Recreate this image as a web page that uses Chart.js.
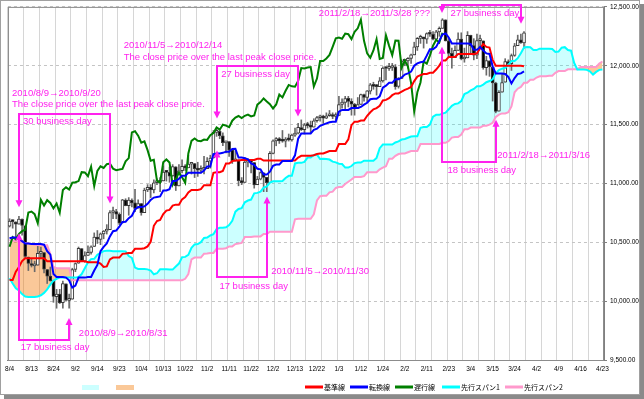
<!DOCTYPE html>
<html>
<head>
<meta charset="utf-8">
<script src="https://cdn.jsdelivr.net/npm/chart.js@4/dist/chart.umd.min.js"></script>
<style>
html, body { margin: 0; padding: 0; background: #fff; }
canvas { display: block; background: #fff; }
</style>
</head>
<body>
<canvas id="chart" width="644" height="399"></canvas>
<script>
// x axis: one category per trading day, a date label every 7th one
const tickLabels = ['8/4','8/13','8/24','9/2','9/14','9/23','10/4','10/13','10/22','11/2','11/11','11/22','12/2','12/13','12/22',
  '1/3','1/12','1/24','2/2','2/11','2/23','3/4','3/15','3/24','4/2','4/9','4/16','4/23'];
const labelStep = 7;
const nCats = 190;
const lag = 26;

// daily candles 2010/8/4 .. 2011/3/29
const opens = [
  10636,10678,10672,10655,10696,10640,10375,10318,10300,10305,
  10406,10413,10269,10214,10172,10038,10060,9988,10148,10006,
  10016,10270,10322,10446,10340,10388,10415,10464,10544,10525,
  10571,10595,10608,10753,10761,10738,10664,10859,10812,10857,
  10836,10789,10828,10752,10945,10968,10945,11007,11009,11021,
  11096,11094,11063,11142,10978,11108,11146,11133,11163,11168,
  11127,11112,11121,11125,11189,11216,11434,11443,11405,11345,
  11355,11283,11193,11200,11023,11009,11180,11203,11177,10989,
  11036,11091,11051,11007,11255,11361,11382,11362,11359,11373,
  11370,11411,11428,11475,11457,11499,11491,11479,11533,11558,
  11572,11555,11575,11585,11569,11577,11671,11688,11723,11697,
  11673,11637,11672,11755,11731,11783,11837,11823,11823,11872,
  11979,11978,11985,11990,11824,11892,12040,12041,12062,12092,
  12161,12232,12239,12226,12273,12268,12226,12287,12318,12390,
  12211,12105,12068,12131,12227,12057,12067,12258,12171,12089,
  12213,12211,11983,12042,11988,11853,11614,11776,11860,12036,
  12018,12087,12171,12220,12194];
const highs = [
  10700,10690,10675,10720,10700,10640,10375,10360,10340,10470,
  10460,10413,10270,10290,10172,10100,10100,10170,10148,10060,
  10280,10325,10460,10446,10420,10470,10470,10580,10600,10580,
  10600,10650,10770,10800,10780,10750,10865,10870,10880,10870,
  10950,10860,10830,10960,10990,10990,11030,11040,11050,11150,
  11110,11140,11160,11142,11160,11200,11160,11240,11180,11170,
  11180,11150,11230,11220,11240,11450,11460,11450,11430,11360,
  11355,11290,11280,11200,11050,11220,11210,11203,11177,11060,
  11100,11091,11051,11270,11370,11390,11390,11450,11390,11420,
  11420,11470,11510,11540,11510,11520,11530,11550,11570,11580,
  11580,11600,11620,11600,11600,11740,11720,11740,11740,11720,
  11680,11730,11760,11760,11790,11850,11860,11840,11900,11990,
  11990,12020,12020,12010,11900,12050,12050,12070,12100,12200,
  12240,12260,12240,12280,12300,12290,12300,12330,12400,12390,
  12230,12150,12170,12280,12280,12150,12290,12260,12230,12270,
  12260,12211,12080,12042,11990,11860,11790,11930,12060,12050,
  12100,12190,12260,12270,12290];
const lows = [
  10630,10620,10520,10655,10560,10370,10260,10290,10250,10305,
  10360,10240,10150,10170,9990,9940,9980,9940,10000,9940,
  10016,10250,10322,10340,10330,10388,10400,10464,10490,10480,
  10530,10570,10608,10700,10700,10650,10664,10810,10730,10800,
  10760,10789,10730,10752,10930,10880,10920,10990,10930,11021,
  11020,11010,11060,10940,10978,11090,11110,11133,11080,11050,
  11060,11090,11080,11125,11130,11216,11400,11380,11320,11260,
  11230,11170,11190,10980,10990,11009,11140,11090,10960,10989,
  11030,10930,10930,11007,11250,11320,11340,11350,11310,11360,
  11360,11400,11420,11450,11420,11470,11430,11479,11520,11530,
  11510,11550,11570,11550,11540,11577,11640,11630,11650,11580,
  11580,11637,11672,11700,11690,11760,11800,11750,11823,11860,
  11880,11960,11960,11800,11810,11892,12000,11980,12020,12092,
  12130,12190,12150,12190,12250,12220,12220,12250,12318,12210,
  12080,11980,12068,12131,12050,12030,12067,12100,12050,12060,
  12160,11970,11920,11910,11700,11600,11614,11776,11860,12000,
  11960,12080,12171,12190,12150];
const closes = [
  10680,10675,10654,10698,10644,10379,10320,10303,10302,10406,
  10415,10271,10213,10174,10040,10060,9986,10150,10009,10014,
  10269,10320,10448,10341,10387,10415,10462,10544,10526,10572,
  10595,10607,10753,10761,10739,10662,10860,10812,10858,10835,
  10788,10829,10751,10944,10967,10948,11006,11010,11020,11096,
  11094,11062,11143,10978,11107,11146,11132,11164,11169,11126,
  11113,11118,11124,11188,11215,11434,11444,11406,11346,11357,
  11283,11193,11201,11023,11007,11181,11204,11178,10988,11037,
  11092,11052,11006,11255,11362,11382,11362,11359,11373,11370,
  11410,11428,11476,11457,11499,11491,11478,11533,11559,11573,
  11555,11575,11585,11569,11578,11670,11691,11722,11697,11674,
  11637,11671,11755,11731,11787,11837,11825,11822,11871,11980,
  11977,11985,11989,11823,11891,12040,12041,12062,12092,12161,
  12233,12239,12229,12273,12268,12226,12288,12318,12391,12212,
  12105,12068,12130,12226,12058,12066,12258,12169,12090,12214,
  12213,11984,12044,11993,11855,11613,11775,11858,12036,12018,
  12086,12170,12220,12197,12280];

// 転換線
const tenkan = [
  10534,10540,10540,10530,10510,10490,10490,10485,10485,10485,
  10485,10480,10425,10395,10230,10205,10205,10205,10200,10177,
  10115,10133,10200,10200,10200,10205,10205,10260,10308,10425,
  10461,10490,10550,10594,10600,10632,10672,10675,10705,10725,
  10779,10800,10800,10805,10827,10860,10880,10885,10890,10940,
  10940,10951,11020,11020,11040,11065,11065,11090,11090,11090,
  11090,11090,11109,11145,11145,11250,11255,11255,11260,11270,
  11270,11293,11295,11220,11220,11215,11205,11170,11158,11125,
  11120,11075,11075,11100,11150,11160,11160,11190,11190,11190,
  11190,11239,11380,11425,11425,11425,11425,11455,11465,11490,
  11500,11510,11520,11525,11525,11610,11625,11625,11625,11640,
  11640,11640,11650,11669,11685,11715,11720,11720,11740,11814,
  11831,11855,11855,11885,11885,11900,11925,11935,11950,12000,
  12020,12030,12035,12086,12140,12140,12160,12211,12265,12275,
  12240,12190,12190,12190,12190,12190,12190,12185,12135,12135,
  12160,12130,12105,12100,11995,11935,11935,11935,11930,11905,
  11850,11895,11930,11935,11952];
// 基準線
const kijun = [
  10180,10180,10250,10290,10340,10365,10365,10365,10365,10365,
  10365,10365,10340,10340,10340,10340,10340,10340,10340,10340,
  10340,10340,10340,10340,10340,10330,10330,10330,10330,10320,
  10290,10295,10355,10370,10370,10370,10402,10405,10410,10410,
  10445,10445,10445,10450,10465,10503,10640,10681,10690,10740,
  10769,10775,10812,10820,10820,10865,10885,10924,10945,10945,
  10945,10952,10985,10985,10985,11090,11095,11095,11106,11170,
  11170,11190,11195,11195,11200,11200,11200,11200,11200,11210,
  11210,11195,11195,11195,11195,11195,11195,11195,11195,11195,
  11195,11195,11220,11235,11235,11235,11235,11240,11250,11255,
  11255,11265,11275,11275,11275,11335,11335,11335,11374,11495,
  11525,11525,11535,11535,11575,11605,11630,11640,11660,11705,
  11710,11725,11750,11765,11765,11780,11795,11805,11820,11870,
  11908,11920,11930,11930,11940,11940,11968,12001,12045,12045,
  12075,12075,12075,12100,12100,12100,12100,12100,12100,12105,
  12146,12185,12160,12155,12050,12000,12000,12000,12000,12000,
  12000,12000,12000,12000,11995];
// 先行スパン1 (already placed 26 days ahead)
const span1 = [
  10195,10150,10110,10090,10060,10040,10035,10035,10035,10040,
  10050,10070,10100,10140,10175,10190,10200,10200,10200,10200,
  10200,10200,10205,10230,10280,10330,
  10357,10360,10395,10410,10425,10428,10428,10425,10425,10425,
  10425,10423,10383,10368,10285,10273,10273,10273,10270,10259,
  10228,10237,10270,10270,10270,10268,10268,10295,10319,10373,
  10376,10393,10453,10482,10485,10501,10537,10540,10558,10568,
  10612,10623,10623,10628,10646,10682,10760,10783,10790,10840,
  10855,10863,10916,10920,10930,10965,10975,11007,11018,11018,
  11018,11021,11047,11065,11065,11170,11175,11175,11183,11220,
  11220,11242,11245,11208,11210,11208,11203,11185,11179,11168,
  11165,11135,11135,11148,11173,11178,11178,11193,11193,11193,
  11193,11217,11300,11330,11330,11330,11330,11348,11358,11373,
  11378,11388,11398,11400,11400,11473,11480,11480,11500,11568,
  11583,11583,11593,11602,11630,11660,11675,11680,11700,11760,
  11771,11790,11803,11825,11825,11840,11860,11870,11885,11935,
  11964,11975,11983,12008,12040,12040,12064,12106,12155,12160,
  12158,12133,12133,12145,12145,12145,12145,12143,12118,12120,
  12153,12158,12133,12128,12023,11968,11968,11968,11965,11953,
  11925,11948,11965,11968];
// 先行スパン2 (already placed 26 days ahead)
const span2 = [
  10520,10515,10510,10505,10500,10495,10490,10485,10480,10478,
  10476,10475,10475,10400,10290,10280,10280,10280,10280,10280,
  10178,10178,10178,10178,10178,10178,10178,10178,10178,10178,
  10178,10178,10178,10178,10178,10178,10178,10178,10178,10178,
  10178,10178,10178,10178,10178,10178,10178,10178,10178,10178,
  10178,10178,10178,10178,10178,10178,
  10190,10230,10355,10370,10370,10370,10403,10405,10410,10410,
  10445,10445,10445,10450,10465,10465,10485,10490,10495,10545,
  10545,10545,10550,10550,10550,10570,10570,10590,10590,10590,
  10590,10590,10590,10590,10590,10695,10700,10700,10700,10700,
  10700,10738,10855,10891,10895,10895,10924,10930,10962,10970,
  10970,10995,11015,11034,11055,11055,11055,11062,11095,11095,
  11095,11095,11120,11135,11146,11210,11210,11235,11250,11255,
  11255,11265,11275,11275,11275,11335,11335,11335,11335,11335,
  11335,11335,11345,11345,11360,11390,11395,11395,11415,11460,
  11460,11475,11475,11475,11475,11490,11490,11500,11515,11565,
  11585,11595,11595,11605,11654,11775,11805,11820,11855,11855,
  11880,11880,11900,11910,11910,11910,11915,11915,11940,11955,
  11955,11955,11970,11970,11970,11970,11989,11990,11990,11990,
  11990,11990,12019,12036];

const legendNames = ['基準線', '転換線', '遅行線', '先行スパン1', '先行スパン2'];

// notes on the chart, placed by [category index, price]
const notes = [
  ['2010/8/9→2010/9/20', 0.8, 11746],
  ['The close price over the last peak close price.', 0.8, 11653],
  ['30 business day', 4.3, 11508],
  ['2010/8/9→2010/8/31', 22.1, 9703],
  ['17 business day', 3.6, 9585],
  ['2010/11/5→2010/12/14', 36.4, 12153],
  ['The close price over the last peak close price.', 36.4, 12051],
  ['27 business day', 67.5, 11907],
  ['2010/11/5→2010/11/30', 83.4, 10229],
  ['17 business day', 66.9, 10102],
  ['2011/2/18→2011/3/28 ???', 98.6, 12424],
  ['27 business day', 140.6, 12424],
  ['2011/2/18→2011/3/16', 155.5, 11220],
  ['18 business day', 139.6, 11093]
];
// brackets: [from index, to index, bar level, tip price at from, tip price at to]
const brackets = [
  [3, 32, 11593, 10797, 10830],
  [3, 19, 9669, 10576, 9856],
  [66, 92, 12000, 11551, 11568],
  [66, 82, 10203, 11280, 10890],
  [138, 163, 12517, 12449, 12356],
  [138, 155, 11178, 12161, 11542]
];

const categories = [];
for (let i = 0; i < nCats; i++) {
  categories.push(i % labelStep === 0 ? tickLabels[i / labelStep] : '');
}
const chikou = closes.slice(lag);
const wicks = lows.map((l, i) => [l, highs[i]]);
const bodies = opens.map((o, i) => [o, closes[i]]);
const bodyColors = opens.map((o, i) => closes[i] >= o ? '#ffffff' : '#000000');

const MAGENTA = '#ff22ee';
const FONT = '"Liberation Sans", Arial, sans-serif';

const annotate = {
  id: 'annotate',
  afterDatasetsDraw(chart) {
    const {ctx, scales: {x, y}} = chart;
    ctx.save();
    ctx.strokeStyle = MAGENTA;
    ctx.fillStyle = MAGENTA;
    ctx.lineWidth = 2;
    ctx.lineJoin = 'miter';
    const head = (px, py, dir) => {
      ctx.beginPath();
      ctx.moveTo(px, py);
      ctx.lineTo(px - 3.5, py - dir * 7);
      ctx.lineTo(px + 3.5, py - dir * 7);
      ctx.closePath();
      ctx.fill();
    };
    brackets.forEach(([a, b, level, tipA, tipB]) => {
      const xa = Math.round(x.getPixelForValue(a)), xb = Math.round(x.getPixelForValue(b));
      const yl = Math.round(y.getPixelForValue(level));
      const ya = y.getPixelForValue(tipA), yb = y.getPixelForValue(tipB);
      const da = ya > yl ? 1 : -1, db = yb > yl ? 1 : -1;
      ctx.beginPath();
      ctx.moveTo(xa, ya - da * 5);
      ctx.lineTo(xa, yl);
      ctx.lineTo(xb, yl);
      ctx.lineTo(xb, yb - db * 5);
      ctx.stroke();
      head(xa, ya, da);
      head(xb, yb, db);
    });
    ctx.font = '9.5px ' + FONT;
    ctx.textAlign = 'left';
    ctx.textBaseline = 'alphabetic';
    notes.forEach(([t, i, p]) => {
      ctx.fillText(t, x.getPixelForValue(i), y.getPixelForValue(p));
    });
    ctx.restore();
  }
};

const plotFrame = {
  id: 'plotFrame',
  beforeDatasetsDraw(chart) {
    const {ctx, chartArea: {left, top, right, bottom}} = chart;
    ctx.save();
    ctx.strokeStyle = '#8c8c8c';
    ctx.lineWidth = 1;
    ctx.strokeRect(left + 0.5, top + 0.5, right - left - 1, bottom - top);
    ctx.restore();
  },
  afterDraw(chart) {
    const ctx = chart.ctx;
    ctx.save();
    // outer frame with shadow
    ctx.fillStyle = '#8a8a8a';
    ctx.fillRect(640, 4, 4, 395);
    ctx.fillRect(4, 395, 640, 4);
    ctx.strokeStyle = '#a0a0a0';
    ctx.strokeRect(0.5, 0.5, 639, 394);
    // legend
    const ly = 387;
    ctx.fillStyle = '#ccffff';
    ctx.fillRect(82, 385, 17, 5);
    ctx.fillStyle = '#fac898';
    ctx.fillRect(116, 385, 18, 5);
    const cols = ['#ff0000', '#0000ff', '#007f00', '#00ffff', '#ff99cc'];
    const xs = [305, 350, 395, 442, 505];
    ctx.font = '7px "Noto Sans CJK JP", sans-serif';
    ctx.textBaseline = 'middle';
    legendNames.forEach((name, k) => {
      ctx.strokeStyle = cols[k];
      ctx.lineWidth = 3;
      ctx.beginPath();
      ctx.moveTo(xs[k], ly);
      ctx.lineTo(xs[k] + 18, ly);
      ctx.stroke();
      ctx.fillStyle = '#000';
      ctx.fillText(name, xs[k] + 19, ly);
    });
    ctx.restore();
  }
};

const lineDs = (label, data, color, order, extra) => Object.assign({
  type: 'line', label, data, borderColor: color, backgroundColor: color,
  borderWidth: 2, pointRadius: 0, tension: 0, fill: false, order
}, extra || {});

new Chart(document.getElementById('chart'), {
  type: 'bar',
  data: {
    labels: categories,
    datasets: [
      lineDs('先行スパン2', span2, '#ff99cc', 6),
      // translucent so the grid shows through the cloud
      lineDs('先行スパン1', span1, '#00ffff', 5, {fill: {target: 0, above: 'rgba(0,255,255,0.2)', below: 'rgba(243,118,0,0.4)'}}),
      {
        label: 'wick', data: wicks, backgroundColor: '#6a6a6a', borderWidth: 0,
        barThickness: 1, grouped: false, order: 10
      },
      {
        label: 'body', data: bodies, backgroundColor: bodyColors, borderColor: '#3a3a3a',
        borderWidth: 1, borderSkipped: false, barThickness: 3, minBarLength: 2,
        grouped: false, order: 9
      },
      lineDs('遅行線', chikou, '#007f00', 4),
      lineDs('基準線', kijun, '#ff0000', 3),
      lineDs('転換線', tenkan, '#0000ff', 2)
    ]
  },
  options: {
    responsive: false,
    animation: false,
    devicePixelRatio: 1,
    events: [],
    layout: {padding: {left: 6, top: 6, right: 0, bottom: 26}},
    plugins: {
      legend: {display: false},
      tooltip: {enabled: false},
      filler: {drawTime: 'beforeDatasetsDraw'}
    },
    scales: {
      x: {
        type: 'category',
        offset: true,
        afterFit: (s) => { s.height = 13; },
        grid: {
          offset: true,
          drawTicks: false,
          lineWidth: 1,
          color: (c) => c.index % 5 === 0 ? '#d6d6d6' : 'rgba(0,0,0,0)'
        },
        border: {display: true, color: '#808080'},
        ticks: {
          autoSkip: false, maxRotation: 0, minRotation: 0, padding: 5,
          color: '#000', font: {size: 6.5, family: FONT}
        }
      },
      y: {
        position: 'right',
        min: 9500,
        max: 12500,
        afterFit: (s) => { s.width = 40; },
        grid: {color: '#c4c4c4', tickColor: '#808080', tickLength: 3},
        border: {color: '#808080', dash: [3, 3]},
        ticks: {
          stepSize: 500, padding: 3, color: '#000',
          font: {size: 6.5, family: FONT},
          callback: (v) => v.toLocaleString('en-US', {minimumFractionDigits: 2, maximumFractionDigits: 2})
        }
      }
    }
  },
  plugins: [plotFrame, annotate]
});
</script>
</body>
</html>
